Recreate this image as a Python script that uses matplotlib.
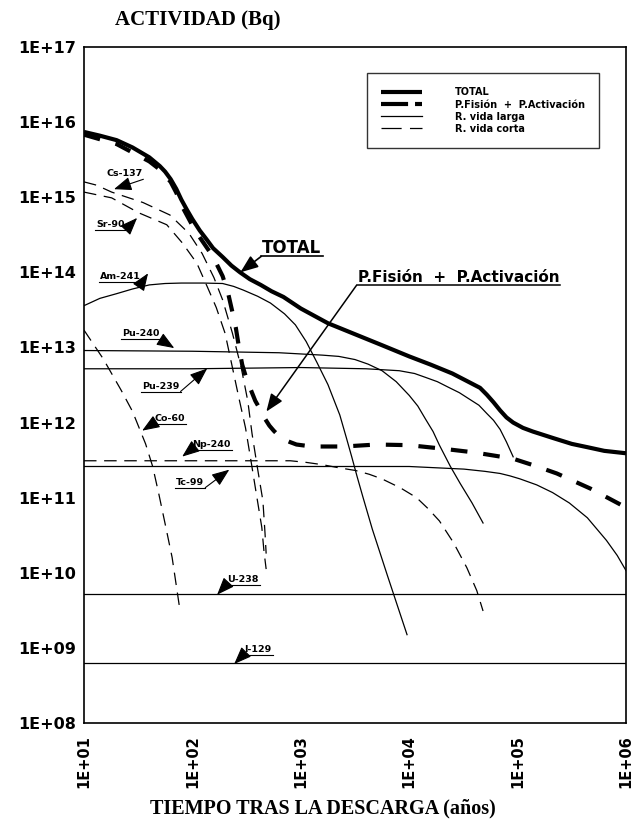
import matplotlib
matplotlib.use('Agg')
import matplotlib.pyplot as plt
from matplotlib.lines import Line2D

plt.rcParams['lines.scale_dashes'] = False
plt.rcParams['font.family'] = ['DejaVu Sans']

## years after discharge / activity in Bq, one pair per curve
total_t = [10, 14, 20, 28, 40, 50, 56, 63, 71, 79, 89, 100, 117, 135, 155, 190, 229,
           275, 339, 427, 537, 692, 1000, 1780, 3160, 5620, 1e4, 1.58e4, 2.5e4,
           3.5e4, 4.5e4, 5.2e4, 6.0e4, 6.9e4, 7.9e4, 9.1e4, 1.12e5, 1.38e5, 2.14e5,
           3.16e5, 4.4e5, 6.3e5, 1e6]
total_bq = [7.4e15, 6.6e15, 5.75e15, 4.6e15, 3.4e15, 2.6e15, 2.19e15, 1.74e15, 1.29e15,
            9.3e14, 6.8e14, 5.1e14, 3.6e14, 2.75e14, 2.1e14, 1.6e14, 1.23e14, 1.0e14,
            8.1e13, 6.8e13, 5.6e13, 4.7e13, 3.3e13, 2.1e13, 1.5e13, 1.07e13, 7.6e12,
            5.9e12, 4.5e12, 3.5e12, 2.9e12, 2.35e12, 1.86e12, 1.45e12, 1.17e12, 1.0e12,
            8.5e11, 7.6e11, 6.2e11, 5.2e11, 4.7e11, 4.2e11, 3.9e11]

pfa_t = [10, 20, 40, 50, 63, 71, 79, 89, 100, 112, 126, 145, 166, 190, 214, 234, 251,
         269, 288, 316, 347, 380, 427, 468, 513, 562, 631, 708, 794, 912, 1260, 2500,
         5000, 1e4, 2e4, 4e4, 6.3e4, 9.1e4, 1.4e5, 2.3e5, 4.7e5, 1e6]
pfa_bq = [6.8e15, 5.1e15, 3.0e15, 2.34e15, 1.6e15, 1.15e15, 7.9e14, 5.75e14, 4.2e14,
          3.2e14, 2.5e14, 1.86e14, 1.32e14, 8.9e13, 5.2e13, 2.95e13, 1.86e13, 1.0e13,
          5.9e12, 3.8e12, 2.7e12, 1.95e12, 1.45e12, 1.12e12, 9.1e11, 7.8e11, 6.6e11,
          5.9e11, 5.5e11, 5.1e11, 4.8e11, 4.8e11, 5.1e11, 5.0e11, 4.5e11, 4.0e11,
          3.6e11, 3.3e11, 2.7e11, 2.1e11, 1.32e11, 7.4e10]

# long-lived nuclides (solid)
am241_t = [10, 14, 20, 28, 40, 56, 79, 126, 190, 240, 295, 400, 525, 708, 891, 1120,
           1410, 1780, 2290, 2630, 2950, 3310, 3720, 4570, 6310, 9550]
am241_bq = [3.6e13, 4.5e13, 5.2e13, 6.0e13, 6.8e13, 7.1e13, 7.2e13, 7.2e13, 7.1e13,
            6.5e13, 5.8e13, 4.8e13, 3.9e13, 2.8e13, 2.0e13, 1.2e13, 6.3e12, 3.2e12,
            1.26e12, 6.3e11, 3.5e11, 1.9e11, 1.05e11, 3.8e10, 9.1e9, 1.5e9]

pu240_t = [10, 100, 630, 1580, 2240, 3160, 4170, 5620, 7590, 1e4, 1.2e4, 1.41e4,
           1.66e4, 1.9e4, 2.4e4, 2.95e4, 3.8e4, 4.8e4]
pu240_bq = [9.1e12, 8.9e12, 8.5e12, 7.9e12, 7.6e12, 6.9e12, 6.0e12, 4.9e12, 3.5e12,
            2.3e12, 1.66e12, 1.12e12, 7.6e11, 5.0e11, 2.6e11, 1.55e11, 8.5e10, 4.6e10]

pu239_t = [10, 100, 1000, 4000, 8100, 1.12e4, 1.41e4, 1.82e4, 2.3e4, 2.9e4, 3.5e4,
           4.4e4, 5.2e4, 6.0e4, 6.9e4, 7.9e4, 9.1e4]
pu239_bq = [5.2e12, 5.2e12, 5.4e12, 5.2e12, 4.9e12, 4.5e12, 4.0e12, 3.5e12, 2.95e12,
            2.5e12, 2.1e12, 1.7e12, 1.32e12, 1.07e12, 8.1e11, 5.5e11, 3.5e11]

tc99_t = [10, 1e4, 3.2e4, 5.0e4, 6.9e4, 8.5e4, 1.05e5, 1.5e5, 2.1e5, 3.0e5, 4.4e5,
          6.6e5, 8.3e5, 1e6]
tc99_bq = [2.6e11, 2.6e11, 2.4e11, 2.24e11, 2.1e11, 1.95e11, 1.78e11, 1.48e11, 1.17e11,
           8.5e10, 5.4e10, 2.7e10, 1.7e10, 1.07e10]

u238_t = [10, 1e6]
u238_bq = [5.2e9, 5.2e9]

i129_t = [10, 1e6]
i129_bq = [6.2e8, 6.2e8]

# short-lived nuclides (dashed)
cs137_t = [10, 13, 18, 35, 62, 93, 123, 158, 190, 234, 282, 324, 355, 398, 447, 468, 479]
cs137_bq = [1.6e15, 1.45e15, 1.17e15, 8.5e14, 5.8e14, 3.3e14, 1.78e14, 8.5e13, 4.3e13,
            1.55e13, 5.4e12, 1.95e12, 7.1e11, 2.5e11, 9.1e10, 3.3e10, 1.8e10]

sr90_t = [10, 18, 32, 58, 81, 110, 138, 166, 200, 234, 269, 309, 347, 389, 437, 457, 479]
sr90_bq = [1.17e15, 9.8e14, 6.2e14, 4.3e14, 2.45e14, 1.32e14, 6.3e13, 3.4e13, 1.55e13,
           5.4e12, 2.1e12, 8.5e11, 3.1e11, 1.12e11, 4.0e10, 1.95e10, 1.12e10]

co60_t = [10, 15, 22, 28, 37, 43, 49, 56, 65, 76]
co60_bq = [1.7e13, 7.1e12, 2.7e12, 1.41e12, 5.2e11, 2.6e11, 1.12e11, 4.5e10, 1.6e10, 3.5e9]

np240_t = [10, 800, 1120, 1580, 2240, 3200, 4270, 5600, 8300, 1.17e4, 1.5e4, 1.9e4,
           2.57e4, 3.4e4, 4.2e4, 4.8e4]
np240_bq = [3.1e11, 3.1e11, 2.95e11, 2.75e11, 2.5e11, 2.3e11, 2.05e11, 1.78e11, 1.35e11,
            1.0e11, 7.1e10, 4.9e10, 2.5e10, 1.17e10, 5.8e9, 3.1e9]

x_ticks = [1e1, 1e2, 1e3, 1e4, 1e5, 1e6]
x_labels = ['1E+01', '1E+02', '1E+03', '1E+04', '1E+05', '1E+06']
y_ticks = [10.0 ** k for k in range(8, 18)]
y_labels = ['1E+%02d' % k for k in range(8, 18)]

legend_labels = ['TOTAL', 'P.Fisión  +  P.Activación', 'R. vida larga', 'R. vida corta']

## line styles
THICK = dict(color='black', lw=3.0, solid_capstyle='butt', solid_joinstyle='round')
THICK_DASH = dict(color='black', lw=3.0, dashes=(12, 11.5), dash_capstyle='butt')
THIN = dict(color='black', lw=0.9)
THIN_DASH = dict(color='black', lw=0.9, dashes=(9, 5.5))


def label_arrow(ax, text, xy_text, tip, side='right', size=6.8, lw=0.8, underline=True):
    ## bold label, underlined, with a filled arrow from one end of the underline
    t = ax.text(xy_text[0], xy_text[1], text, fontsize=size, fontweight='bold',
                ha='left', va='baseline')
    renderer = ax.figure.canvas.get_renderer()
    bb = t.get_window_extent(renderer)
    ax_x, ax_y = ax.transData.transform(xy_text)
    uy = ax_y - 3
    inv = ax.transData.inverted()
    left = inv.transform((bb.x0 - 1, uy))
    right = inv.transform((bb.x1 + 1, uy))
    if underline:
        ax.plot([left[0], right[0]], [left[1], right[1]], color='black', lw=lw)
    start = right if side == 'right' else left
    ax.annotate('', xy=tip, xytext=start,
                arrowprops=dict(arrowstyle='-|>,head_length=0.9,head_width=0.35',
                                color='black', lw=lw, shrinkA=0, shrinkB=0,
                                mutation_scale=12))


fig = plt.figure(figsize=(6.31, 8.27), dpi=100)
ax = fig.add_axes([84 / 631, 1 - 723 / 827, 542 / 631, 676 / 827])
ax.set_xscale('log')
ax.set_yscale('log')
ax.set_xlim(1e1, 1e6)
ax.set_ylim(1e8, 1e17)

for t_, a_ in [(am241_t, am241_bq), (pu240_t, pu240_bq), (pu239_t, pu239_bq),
               (tc99_t, tc99_bq), (u238_t, u238_bq), (i129_t, i129_bq)]:
    ax.plot(t_, a_, **THIN)
for t_, a_ in [(cs137_t, cs137_bq), (sr90_t, sr90_bq), (co60_t, co60_bq),
               (np240_t, np240_bq)]:
    ax.plot(t_, a_, **THIN_DASH)
ax.plot(pfa_t, pfa_bq, **THICK_DASH)
ax.plot(total_t, total_bq, **THICK)

## axes look
ax.minorticks_off()
ax.set_xticks(x_ticks)
ax.set_xticklabels(x_labels, rotation=90, fontsize=10.5, fontweight='bold')
ax.set_yticks(y_ticks)
ax.set_yticklabels(y_labels, fontsize=11.5, fontweight='bold')
ax.tick_params(axis='both', length=0)
ax.tick_params(axis='y', pad=6)
ax.tick_params(axis='x', pad=9)
for sp in ax.spines.values():
    sp.set_linewidth(1.2)

## legend
handles = [Line2D([], [], color='black', lw=3.0, solid_capstyle='butt'),
           Line2D([], [], color='black', lw=3.0, dashes=(19.5, 5), dash_capstyle='butt'),
           Line2D([], [], color='black', lw=0.9),
           Line2D([], [], color='black', lw=0.9, dashes=(14.5, 6))]
leg = ax.legend(handles, legend_labels, loc='upper left', bbox_to_anchor=(0.522, 0.961),
                handlelength=4.2, handletextpad=3.4, labelspacing=0.22,
                borderpad=1.45, borderaxespad=0, fancybox=False, frameon=True,
                prop={'weight': 'bold', 'size': 7})
leg.get_frame().set_edgecolor('black')
leg.get_frame().set_linewidth(1.0)

## labels on the curves
label_arrow(ax, 'Cs-137', (16.0, 1.9e15), (18.9, 1.28e15), underline=False)
label_arrow(ax, 'Sr-90', (12.9, 4.0e14), (30.9, 5.3e14))
label_arrow(ax, 'Am-241', (14.1, 8.1e13), (39, 9.7e13))
label_arrow(ax, 'Pu-240', (22.4, 1.40e13), (68, 9.8e12))
label_arrow(ax, 'Pu-239', (34.4, 2.84e12), (137, 5.25e12))
label_arrow(ax, 'Co-60', (44.4, 1.06e12), (34.4, 7.8e11), side='left')
label_arrow(ax, 'Np-240', (99.5, 4.79e11), (80.5, 3.52e11), side='left')
label_arrow(ax, 'Tc-99', (70.8, 1.49e11), (219, 2.36e11))
label_arrow(ax, 'U-238', (210, 7.6e9), (169, 5.1e9), side='left')
label_arrow(ax, 'I-129', (301, 8.85e8), (243, 6.1e8), side='left')
label_arrow(ax, 'TOTAL', (441, 1.79e14), (277, 1.0e14), side='left', size=12, lw=1.2)
label_arrow(ax, 'P.Fisión  +  P.Activación', (3335, 7.36e13), (481, 1.4e12),
            side='left', size=11, lw=1.1)

fig.text(115 / 631, 1 - 25 / 827, 'ACTIVIDAD (Bq)', family='Liberation Serif',
         fontweight='bold', fontsize=15, va='baseline', ha='left')
fig.text(323 / 631, 1 - 813 / 827, 'TIEMPO TRAS LA DESCARGA (años)',
         family='Liberation Serif', fontweight='bold', fontsize=14.5,
         va='baseline', ha='center')

fig.savefig('out.png', dpi=100)
